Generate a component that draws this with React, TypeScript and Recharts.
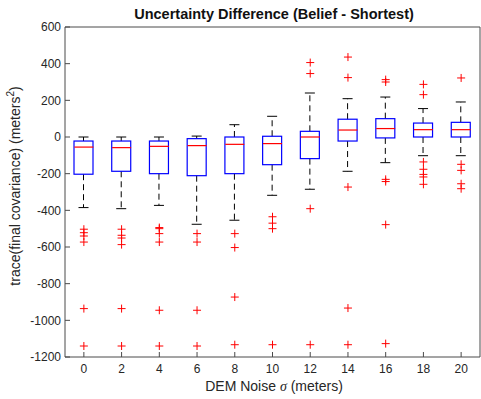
import React from 'react';
import { ComposedChart, Bar, Scatter, XAxis, YAxis, Label } from 'recharts';

const categories = ['0', '2', '4', '6', '8', '10', '12', '14', '16', '18', '20'];
const whiskerHigh = [0, 0, 0, 5, 67, 113, 240, 209, 218, 155, 191];
const upperQuartile = [-22, -22, -22, -9, 0, 4, 31, 97, 100, 76, 80];
const medianValue = [-55, -58, -51, -47, -40, -36, 0, 38, 46, 40, 40];
const lowerQuartile = [-203, -187, -200, -211, -200, -151, -118, -22, -5, 0, 0];
const whiskerLow = [-385, -391, -373, -476, -454, -318, -285, -187, -140, -102, -102];
const outlierValues: number[][] = [
  [-503, -522, -540, -573, -936, -1140],
  [-503, -536, -551, -587, -936, -1140],
  [-494, -500, -527, -573, -945, -1140],
  [-527, -573, -945, -1140],
  [-527, -603, -873, -1133],
  [-435, -470, -500, -1133],
  [406, 346, -391, -1133],
  [436, 324, -273, -933, -1133],
  [313, 300, -231, -243, -478, -1127],
  [287, 231, -136, -176, -204, -218, -258],
  [322, -149, -182, -255, -282],
];
const yTicks = [-1200, -1000, -800, -600, -400, -200, 0, 200, 400, 600];

const maxOutliers = Math.max(...outlierValues.map((o) => o.length));
const outlierKeys = Array.from({ length: maxOutliers }, (_, k) => 'o' + k);

const data = categories.map((cat, i) => {
  const row: any = {
    cat,
    upper: [upperQuartile[i], whiskerHigh[i]],
    box: [lowerQuartile[i], upperQuartile[i]],
    lower: [whiskerLow[i], lowerQuartile[i]],
    med: medianValue[i],
  };
  outlierValues[i].forEach((v, k) => {
    row['o' + k] = v;
  });
  return row;
});

const FONT = '"Liberation Sans", Arial, Helvetica, sans-serif';
const AXIS = '#4a4a4a';
const TEXT = '#262626';
const BLUE = '#0000ff';
const RED = '#ff0000';

const UpperWhisker = (p: any) => {
  const { x, y, width, height } = p;
  const cx = x + width / 2;
  const top = Math.min(y, y + height);
  const bottom = Math.max(y, y + height);
  return (
    <g>
      <line x1={cx} x2={cx} y1={bottom} y2={top} stroke="#000" strokeDasharray="6 4" />
      <line x1={cx - 5} x2={cx + 5} y1={top} y2={top} stroke="#000" />
    </g>
  );
};

const LowerWhisker = (p: any) => {
  const { x, y, width, height } = p;
  const cx = x + width / 2;
  const top = Math.min(y, y + height);
  const bottom = Math.max(y, y + height);
  return (
    <g>
      <line x1={cx} x2={cx} y1={top} y2={bottom} stroke="#000" strokeDasharray="6 4" />
      <line x1={cx - 5} x2={cx + 5} y1={bottom} y2={bottom} stroke="#000" />
    </g>
  );
};

const BoxShape = (p: any) => {
  const { x, y, width, height } = p;
  const top = Math.min(y, y + height);
  return <rect x={x} y={top} width={width} height={Math.abs(height)} fill="none" stroke={BLUE} strokeWidth={1.2} />;
};

const MedianShape = (p: any) => {
  const { cx, cy } = p;
  if (!Number.isFinite(cx) || !Number.isFinite(cy)) return <g />;
  return <line x1={cx - 9.5} x2={cx + 9.5} y1={cy} y2={cy} stroke={RED} strokeWidth={1.2} />;
};

const makeOutlierShape = (key: string) => (p: any) => {
  const { cx, cy, payload } = p;
  if (!payload || payload[key] == null || !Number.isFinite(cx) || !Number.isFinite(cy)) return <g />;
  return (
    <g>
      <line x1={cx - 4} x2={cx + 4} y1={cy} y2={cy} stroke={RED} />
      <line x1={cx} x2={cx} y1={cy - 4} y2={cy + 4} stroke={RED} />
    </g>
  );
};

const HiddenShape = () => <g />;

const TitleLabel = (props: any) => {
  const vb = props.viewBox || {};
  const cx = vb.x + vb.width / 2 + 1.5;
  return (
    <text x={cx} y={vb.y + vb.height - 8.5} textAnchor="middle" fontFamily={FONT} fontSize={14.5} fontWeight="bold" fill="#111">
      Uncertainty Difference (Belief - Shortest)
    </text>
  );
};

const XTitle = (props: any) => {
  const vb = props.viewBox || {};
  const cx = vb.x + vb.width / 2 + 1.5;
  return (
    <text x={cx} y={vb.y + 34} textAnchor="middle" fontFamily={FONT} fontSize={14} fill={TEXT}>
      DEM Noise{' '}
      <tspan fontStyle="italic" fontFamily='"Liberation Serif", "DejaVu Serif", serif'>σ</tspan> (meters)
    </text>
  );
};

const YTitle = (props: any) => {
  const vb = props.viewBox || {};
  const x = vb.x + 20;
  const y = vb.y + vb.height / 2 - 6;
  return (
    <text x={x} y={y} transform={`rotate(-90, ${x}, ${y})`} textAnchor="middle" fontFamily={FONT} fontSize={14} fill={TEXT}>
      trace(final covariance) (meters
      <tspan dy={-6} fontSize={10}>2</tspan>
      <tspan dy={6}>)</tspan>
    </text>
  );
};

export default function App() {
  return (
    <div style={{ position: 'absolute', left: 0, top: 0, width: 481, height: 399, background: '#fff' }}>
      <ComposedChart
        width={481}
        height={399}
        data={data}
        margin={{ top: 26, right: 0, bottom: 0, left: 0 }}
        barGap={-19}
      >
        <XAxis
          dataKey="cat"
          type="category"
          height={42}
          interval={0}
          tickSize={-5}
          tickMargin={12}
          stroke={AXIS}
          tick={{ fill: TEXT, fontSize: 12, fontFamily: FONT }}
        >
          <Label content={XTitle} />
        </XAxis>
        <XAxis
          xAxisId="top"
          dataKey="cat"
          type="category"
          orientation="top"
          height={1}
          interval={0}
          tickSize={-5}
          tick={false}
          stroke={AXIS}
        >
          <Label content={TitleLabel} />
        </XAxis>
        <YAxis
          type="number"
          domain={[-1200, 600]}
          ticks={yTicks}
          interval={0}
          width={65}
          tickSize={-5}
          tickMargin={9}
          stroke={AXIS}
          tick={{ fill: TEXT, fontSize: 12, fontFamily: FONT }}
        >
          <Label content={YTitle} />
        </YAxis>
        <YAxis
          yAxisId="right"
          orientation="right"
          type="number"
          domain={[-1200, 600]}
          ticks={yTicks}
          interval={0}
          width={1}
          tickSize={-5}
          tick={false}
          stroke={AXIS}
        />
        <Bar dataKey="upper" barSize={19} shape={UpperWhisker} isAnimationActive={false} />
        <Bar dataKey="lower" barSize={19} shape={LowerWhisker} isAnimationActive={false} />
        <Bar dataKey="box" barSize={19} shape={BoxShape} isAnimationActive={false} />
        <Scatter dataKey="med" shape={MedianShape} isAnimationActive={false} />
        {outlierKeys.map((key) => (
          <Scatter key={key} dataKey={key} shape={makeOutlierShape(key)} isAnimationActive={false} />
        ))}
        <Scatter
          xAxisId="top"
          yAxisId="right"
          dataKey="med"
          shape={HiddenShape}
          isAnimationActive={false}
        />
      </ComposedChart>
    </div>
  );
}
